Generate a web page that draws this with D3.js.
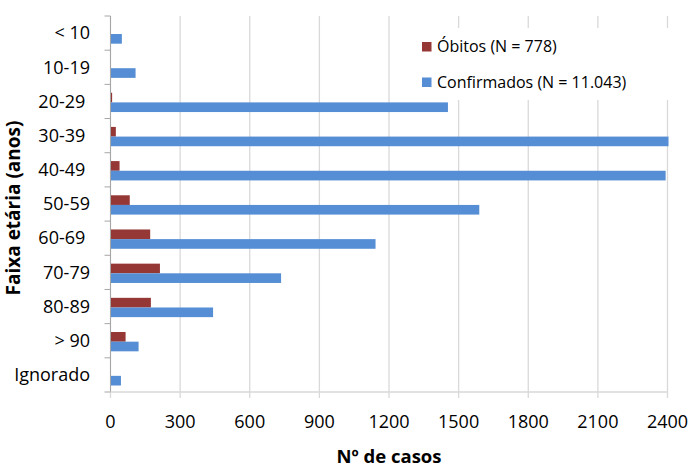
<!DOCTYPE html>
<html>
<head>
<meta charset="utf-8">
<script src="https://cdn.jsdelivr.net/npm/d3@7"></script>
<style>
  html, body { margin: 0; padding: 0; background: #fff; }
  svg text { font-family: "Open Sans", sans-serif; fill: #000; white-space: pre; }
</style>
</head>
<body>
<div id="chart"></div>
<script>
// age groups (trailing spaces as in the source labels)
var categories = ["< 10", "10-19", "20-29 ", "30-39 ", "40-49 ", "50-59", "60-69 ", "70-79", "80-89", "> 90", "Ignorado"];
var obitos = [0, 1, 7, 23, 39, 83, 171, 213, 174, 65, 2];
var confirmados = [49, 108, 1454, 2966, 2392, 1589, 1142, 735, 442, 121, 45];
var seriesNames = ["Óbitos (N = 778)", "Confirmados (N = 11.043)"];
var seriesColors = ["#953735", "#558ED5"];
var xTicks = [0, 300, 600, 900, 1200, 1500, 1800, 2100, 2400];

var w = 688;
var h = 469;
var plotLeft = 110.5;
var plotRight = 667.5;
var plotTop = 16;
var plotBottom = 392;

var svg = d3.select("#chart")
            .append("svg")
            .attr("width", w)
            .attr("height", h);

var x = d3.scaleLinear()
          .domain([0, 2400])
          .range([plotLeft, plotRight]);

var y = d3.scaleBand()
          .domain(d3.range(categories.length))
          .range([plotTop, plotBottom])
          .padding(0);

var bw = y.bandwidth();
// two bars per group, red on top
var inner = d3.scaleBand()
              .domain([0, 1])
              .range([bw * 0.245, bw * 0.81]);

svg.append("defs").append("clipPath")
   .attr("id", "plotClip")
   .append("rect")
   .attr("x", plotLeft)
   .attr("y", plotTop)
   .attr("width", plotRight - plotLeft + 1)
   .attr("height", plotBottom - plotTop);

// vertical gridlines
svg.append("g")
   .selectAll("line")
   .data(xTicks)
   .enter()
   .append("line")
   .attr("x1", function(d) { return x(d); })
   .attr("x2", function(d) { return x(d); })
   .attr("y1", plotTop)
   .attr("y2", plotBottom + 6)
   .attr("stroke", "#d9d9d9")
   .attr("stroke-width", 1.3);

// legend background hides the gridlines behind it
svg.append("rect")
   .attr("x", 414)
   .attr("y", 28)
   .attr("width", 262)
   .attr("height", 72)
   .attr("fill", "#fff");

var rows = categories.map(function(c, i) {
  return {i: i, values: [obitos[i], confirmados[i]]};
});

var bars = svg.append("g")
              .attr("clip-path", "url(#plotClip)");

var group = bars.selectAll("g")
                .data(rows)
                .enter()
                .append("g")
                .attr("transform", function(d) {
                  return "translate(0," + y(d.i) + ")";
                });

group.selectAll("rect")
     .data(function(d) { return d.values; })
     .enter()
     .append("rect")
     .attr("x", x(0))
     .attr("y", function(d, j) { return inner(j); })
     .attr("height", inner.bandwidth())
     .attr("width", function(d) { return Math.max(0, x(d) - x(0)); })
     .attr("fill", function(d, j) { return seriesColors[j]; });

// left axis line and ticks at band edges
svg.append("line")
   .attr("x1", plotLeft)
   .attr("x2", plotLeft)
   .attr("y1", plotTop)
   .attr("y2", plotBottom)
   .attr("stroke", "#a6a6a6")
   .attr("stroke-width", 1);

svg.append("g")
   .selectAll("line")
   .data(d3.range(categories.length + 1))
   .enter()
   .append("line")
   .attr("x1", plotLeft - 6)
   .attr("x2", plotLeft)
   .attr("y1", function(d) { return plotTop + d * bw; })
   .attr("y2", function(d) { return plotTop + d * bw; })
   .attr("stroke", "#a6a6a6");

// bottom axis line
svg.append("line")
   .attr("x1", plotLeft)
   .attr("x2", plotRight)
   .attr("y1", plotBottom)
   .attr("y2", plotBottom)
   .attr("stroke", "#d9d9d9")
   .attr("stroke-width", 1.3);

svg.append("g")
   .selectAll("text")
   .data(categories)
   .enter()
   .append("text")
   .text(function(d) { return d; })
   .attr("x", 90)
   .attr("y", function(d, i) { return y(i) + bw / 2; })
   .attr("dy", "0.35em")
   .attr("text-anchor", "end")
   .attr("font-size", 18);

svg.append("g")
   .selectAll("text")
   .data(xTicks)
   .enter()
   .append("text")
   .text(function(d) { return d; })
   .attr("x", function(d) { return x(d); })
   .attr("y", 422)
   .attr("dy", "0.35em")
   .attr("text-anchor", "middle")
   .attr("font-size", 18);

svg.append("text")
   .text("Nº de casos")
   .attr("x", (plotLeft + plotRight) / 2)
   .attr("y", 457)
   .attr("dy", "0.35em")
   .attr("text-anchor", "middle")
   .attr("font-size", 18.5)
   .attr("font-weight", "bold");

svg.append("text")
   .text("Faixa etária (anos)")
   .attr("transform", "translate(13,208) rotate(-90)")
   .attr("dy", "0.35em")
   .attr("text-anchor", "middle")
   .attr("font-size", 19)
   .attr("font-weight", "bold");

// legend
var legend = svg.append("g")
                .selectAll("g")
                .data(seriesNames)
                .enter()
                .append("g")
                .attr("transform", function(d, i) {
                  return "translate(422," + (42 + i * 35.5) + ")";
                });

legend.append("rect")
      .attr("width", 9.5)
      .attr("height", 9.5)
      .attr("fill", function(d, i) { return seriesColors[i]; });

legend.append("text")
      .text(function(d) { return d; })
      .attr("x", 15)
      .attr("y", 4.8)
      .attr("dy", "0.35em")
      .attr("font-size", 16);
</script>
</body>
</html>
